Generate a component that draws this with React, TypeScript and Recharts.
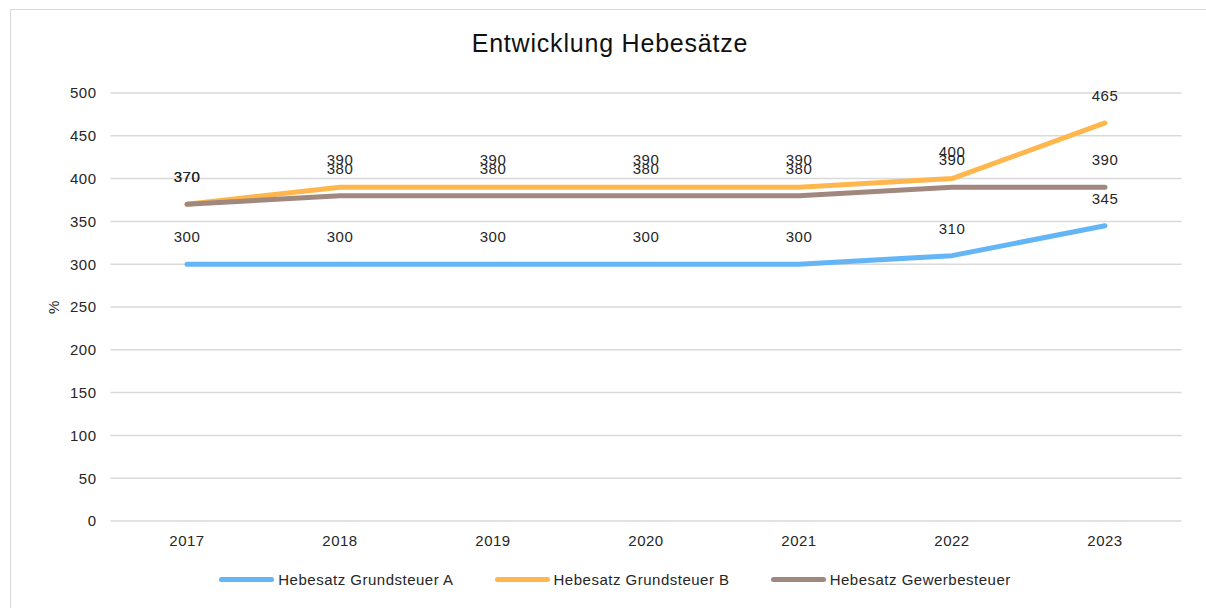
import React from "react";
import { CartesianGrid, LabelList, Legend, Line, LineChart, XAxis, YAxis } from "recharts";

const years = ["2017", "2018", "2019", "2020", "2021", "2022", "2023"];
const grundsteuerA = [300, 300, 300, 300, 300, 310, 345];
const grundsteuerB = [370, 390, 390, 390, 390, 400, 465];
const gewerbesteuer = [370, 380, 380, 380, 380, 390, 390];
const yTicks = [0, 50, 100, 150, 200, 250, 300, 350, 400, 450, 500];

const series = [
  { key: "a", name: "Hebesatz Grundsteuer A", color: "#64B5F6", values: grundsteuerA },
  { key: "b", name: "Hebesatz Grundsteuer B", color: "#FFB74D", values: grundsteuerB },
  { key: "g", name: "Hebesatz Gewerbesteuer", color: "#A1887F", values: gewerbesteuer }
];

const rows = years.map((year, i) => {
  const row: Record<string, string | number> = { year };
  series.forEach((s) => {
    row[s.key] = s.values[i];
  });
  return row;
});

const FONT = "'Liberation Sans', Arial, sans-serif";
const textStyle = { fill: "#262626", fontSize: 15, fontFamily: FONT, letterSpacing: 0.5 };

function LegendContent() {
  return (
    <div
      style={{
        display: "flex",
        justifyContent: "center",
        gap: 41,
        fontFamily: FONT,
        fontSize: 15,
        letterSpacing: 0.5,
        color: "#262626",
        paddingLeft: 24
      }}
    >
      {series.map((s) => (
        <div key={s.key} style={{ display: "flex", alignItems: "center", gap: 4 }}>
          <span
            style={{
              display: "inline-block",
              width: 55,
              height: 5,
              borderRadius: 3,
              background: s.color
            }}
          />
          <span>{s.name}</span>
        </div>
      ))}
    </div>
  );
}

export default function App() {
  return (
    <div style={{ position: "fixed", left: 0, top: 0, width: 1206, height: 608, overflow: "hidden", background: "#fff" }}>
      <div
        style={{
          position: "absolute",
          left: 10,
          top: 9,
          width: 1220,
          height: 620,
          border: "1.5px solid #d9d9d9"
        }}
      />
      <div
        style={{
          position: "absolute",
          left: 0,
          top: 29,
          width: 1220,
          textAlign: "center",
          fontFamily: FONT,
          fontSize: 25,
          letterSpacing: 0.8,
          color: "#111"
        }}
      >
        Entwicklung Hebesätze
      </div>
      <div style={{ position: "absolute", left: 0, top: 0 }}>
        <LineChart
          width={1206}
          height={608}
          data={rows}
          margin={{ top: 93, right: 24.5, bottom: 57, left: 50.5 }}
        >
          <CartesianGrid vertical={false} stroke="#d9d9d9" strokeWidth={1.5} />
          <XAxis
            dataKey="year"
            scale="band"
            height={30}
            axisLine={false}
            tickLine={false}
            tickMargin={8}
            tick={textStyle}
          />
          <YAxis
            width={60}
            domain={[0, 500]}
            ticks={yTicks}
            axisLine={false}
            tickLine={false}
            tickMargin={8}
            tick={textStyle}
            label={{
              value: "%",
              angle: -90,
              position: "insideLeft",
              offset: 3,
              style: { ...textStyle, textAnchor: "middle" }
            }}
          />
          <Legend
            layout="horizontal"
            verticalAlign="middle"
            align="center"
            wrapperStyle={{ top: 571, left: 0, width: 1206 }}
            content={<LegendContent />}
          />
          {series.map((s) => (
            <Line
              key={s.key}
              type="linear"
              dataKey={s.key}
              name={s.name}
              stroke={s.color}
              strokeWidth={5}
              strokeLinecap="round"
              strokeLinejoin="round"
              dot={false}
              activeDot={false}
              isAnimationActive={false}
            >
              <LabelList
                dataKey={s.key}
                position="top"
                offset={22}
                fill="#262626"
                fontSize={15}
                fontFamily={FONT}
                style={{ letterSpacing: 0.5 }}
              />
            </Line>
          ))}
        </LineChart>
      </div>
    </div>
  );
}
